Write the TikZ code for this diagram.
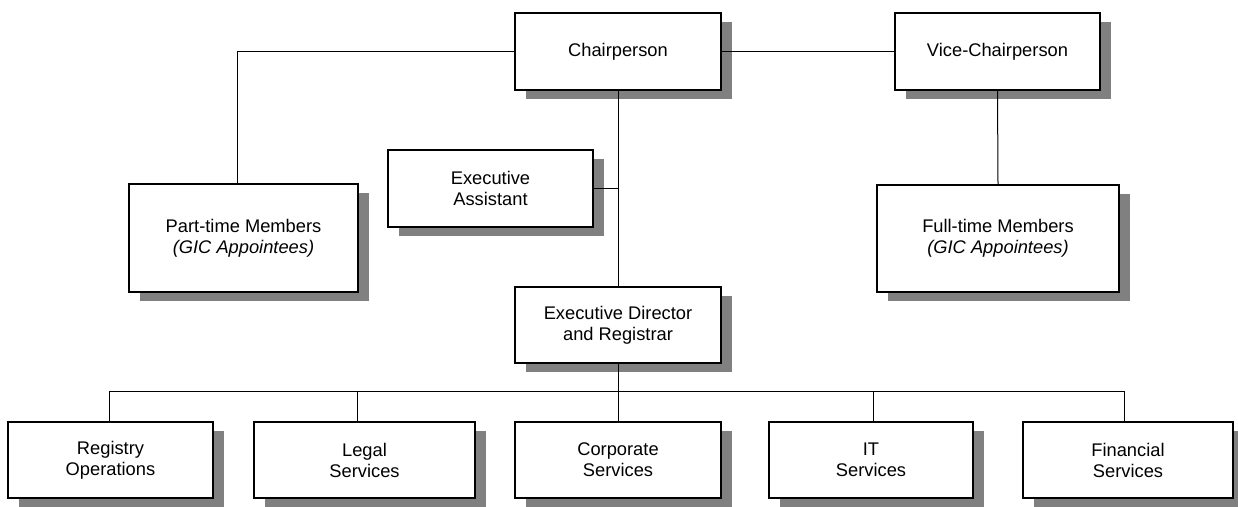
\documentclass[tikz,border=0pt]{standalone}
\usepackage{fontspec}
\setmainfont{Liberation Sans}
\usepackage{xcolor}
\usepackage{tikz}
\definecolor{shadowgray}{RGB}{128, 128, 128}
\usetikzlibrary{positioning, calc, shadows}

\begin{document}
\begin{tikzpicture}[
    x=1pt, y=-1pt,
    unit/.style={rectangle, draw=black, line width=1.2pt, fill=white, inner sep=0pt, align=center,
        font=\fontsize{18.3}{21}\selectfont,
        drop shadow={shadow xshift=11pt, shadow yshift=-9pt, fill=shadowgray, opacity=1}},
    link/.style={draw=black, line width=1pt}
]
    \useasboundingbox (0,0) rectangle (1238,506);

    % Board
    \node[unit, minimum width=206pt, minimum height=77pt] (chair) at (618,51.5) {Chairperson};
    \node[unit, minimum width=205pt, minimum height=77pt] (vice) at (997.5,51.5) {Vice-Chairperson};
    \node[unit, minimum width=229pt, minimum height=108pt] (ptm) at (243.5,238) {Part-time Members\\\textit{(GIC Appointees)}};
    \node[unit, minimum width=242pt, minimum height=107pt] (ftm) at (998,238.5) {Full-time Members\\\textit{(GIC Appointees)}};

    % Staff
    \node[unit, minimum width=205pt, minimum height=77pt] (assist) at (490.5,188.5) {Executive\\Assistant};
    \node[unit, minimum width=206pt, minimum height=76pt] (exdir) at (618,325) {Executive Director\\and Registrar};

    % Branches
    \node[unit, minimum width=205pt, minimum height=76pt] (registry) at (110.5,460) {Registry\\Operations};
    \node[unit, minimum width=221pt, minimum height=76pt] (legal) at (364.5,460) {Legal\\Services};
    \node[unit, minimum width=206pt, minimum height=76pt] (corporate) at (618,460) {Corporate\\Services};
    \node[unit, minimum width=204pt, minimum height=76pt] (itserv) at (871,460) {IT\\Services};
    \node[unit, minimum width=210pt, minimum height=76pt] (financial) at (1128,460) {Financial\\Services};

    % Board lines
    \coordinate (ptjoin) at (237,184);
    \draw[link] (chair.west) -| (ptjoin);
    \draw[link] (chair.east) -- (vice.west);
    \draw[link] (vice.south) -- (ftm.north);
    \draw[link] (chair.south) -- (exdir.north);
    \draw[link] (assist.east) -- (assist.east -| chair.south);

    % Branch lines
    \draw[link] (exdir.south) -- (corporate.north);
    \foreach \name/\xpos in {registry/109, legal/357, itserv/873, financial/1124}
        \coordinate (drop-\name) at (\xpos,391);
    \draw[link] (drop-registry) -- (drop-financial);
    \foreach \name in {registry, legal, itserv, financial}
        \draw[link] (drop-\name) -- (drop-\name |- \name.north);
\end{tikzpicture}
\end{document}
